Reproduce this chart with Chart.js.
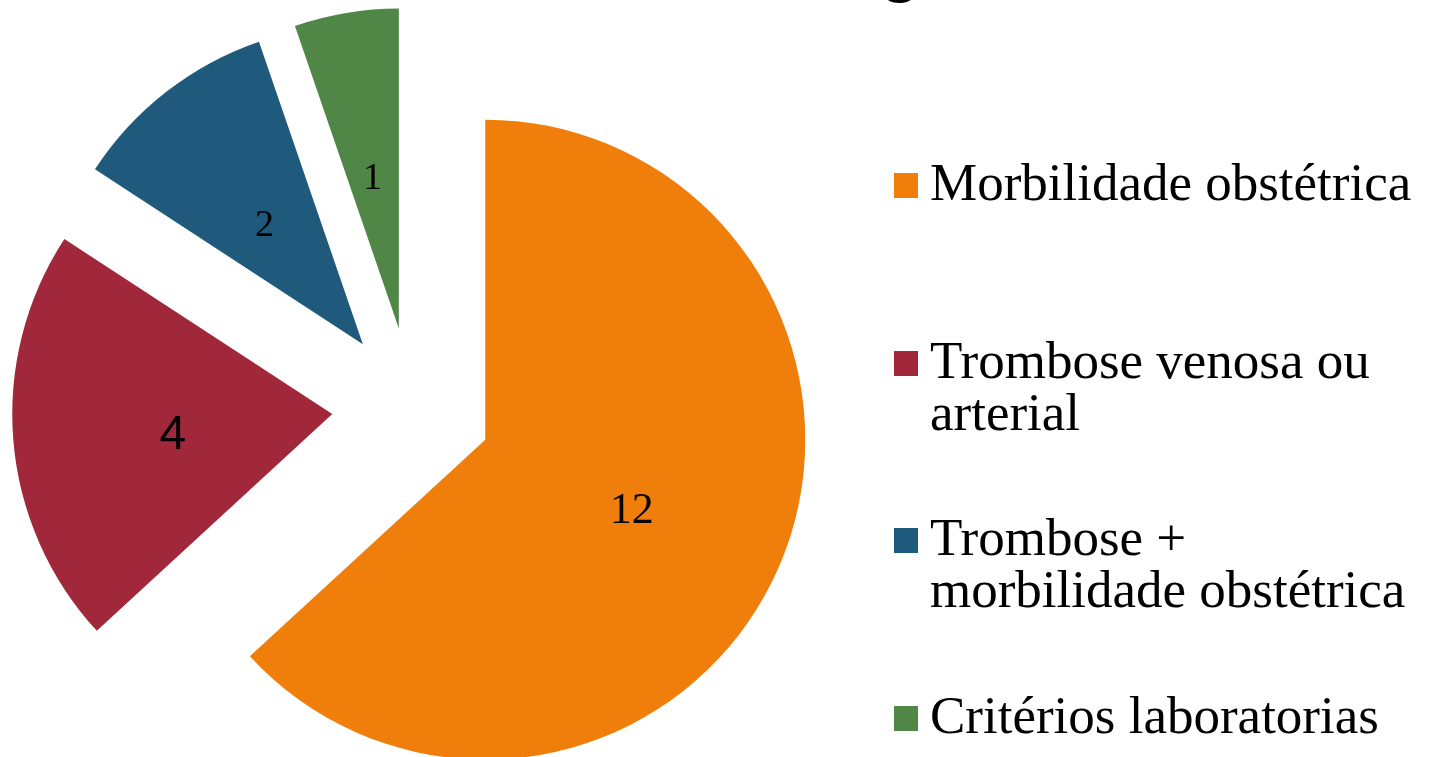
<!DOCTYPE html>
<html>
<head>
<meta charset="utf-8">
<script src="https://cdn.jsdelivr.net/npm/chart.js@4.4.1/dist/chart.umd.min.js"></script>
<style>
  html, body { margin: 0; padding: 0; background: #fff; overflow: hidden; }
  #wrap { position: relative; width: 1432px; height: 757px; overflow: hidden; }
  #chart { position: absolute; left: 0; top: 0; }
  /* the title sits above the picture, only the tail of its "g" shows */
  #title {
    position: absolute; left: 0; top: -60px; white-space: nowrap;
    font-family: "Liberation Serif", serif; font-weight: bold; font-size: 60px; line-height: 60px;
  }
  #legend {
    position: absolute; left: 894px; top: 0;
    font-family: "Liberation Serif", serif; font-size: 53px; line-height: 52px; color: #000;
  }
  .item { position: absolute; left: 0; white-space: nowrap; }
  .box { position: absolute; left: 0; top: 17px; width: 24px; height: 25px; }
  .txt { position: absolute; left: 36px; top: 0; }
</style>
</head>
<body>
<div id="wrap">
  <canvas id="chart" width="1432" height="757"></canvas>
  <div id="title">Critérios de diagnóstico</div>
  <div id="legend"></div>
</div>
<script>
// slice categories, one entry per legend line
const categories = [
  ["Morbilidade obstétrica"],
  ["Trombose venosa ou", "arterial"],
  ["Trombose +", "morbilidade obstétrica"],
  ["Critérios laboratorias"],
];

// number of patients in each group
const counts = [12, 4, 2, 1];

const sliceColors = ["#EF7F0A", "#A0283A", "#1F597B", "#508746"];

// the data labels are not all in the same font in the original
const labelFonts = [
  "44px 'Liberation Serif'",
  "48px 'Liberation Sans'",
  "38px 'Liberation Serif'",
  "38px 'Liberation Serif'",
];

// pulls every slice out along its middle angle, like "point explosion" in Excel,
// then writes the value in the middle of each slice
const explodePie = {
  id: "explodePie",
  beforeDatasetDraw(chart, args, opts) {
    const ctx = chart.ctx;
    args.meta.data.forEach((arc) => {
      const mid = (arc.startAngle + arc.endAngle) / 2;
      ctx.save();
      ctx.translate(Math.cos(mid) * opts.distance, Math.sin(mid) * opts.distance);
      arc.draw(ctx);
      ctx.restore();
    });
    return false; // we drew it ourselves
  },
  afterDatasetsDraw(chart, args, opts) {
    const ctx = chart.ctx;
    const meta = chart.getDatasetMeta(0);
    const values = chart.data.datasets[0].data;
    ctx.save();
    ctx.fillStyle = "#000";
    ctx.textAlign = "center";
    ctx.textBaseline = "middle";
    meta.data.forEach((arc, i) => {
      const mid = (arc.startAngle + arc.endAngle) / 2;
      const pos = arc.tooltipPosition();
      ctx.font = opts.fonts[i];
      ctx.fillText(
        String(values[i]),
        pos.x + Math.cos(mid) * opts.distance,
        pos.y + Math.sin(mid) * opts.distance + opts.dy
      );
    });
    ctx.restore();
  },
};

// html legend so the long labels can break over two lines
const htmlLegend = {
  id: "htmlLegend",
  afterUpdate(chart) {
    const target = document.querySelector("#legend");
    target.innerHTML = "";
    chart.data.labels.forEach((label, i) => {
      const item = document.createElement("div");
      item.className = "item";
      item.style.top = 156 + i * 177.5 + "px";
      const box = document.createElement("span");
      box.className = "box";
      box.style.background = chart.data.datasets[0].backgroundColor[i];
      const txt = document.createElement("span");
      txt.className = "txt";
      txt.innerHTML = label.join("<br>");
      item.appendChild(box);
      item.appendChild(txt);
      target.appendChild(item);
    });
  },
};

const chart = new Chart(document.querySelector("#chart"), {
  type: "pie",
  data: {
    labels: categories,
    datasets: [
      {
        data: counts,
        backgroundColor: sliceColors,
        borderWidth: 0,
        radius: 320,
      },
    ],
  },
  options: {
    responsive: false,
    animation: false,
    // puts the pie centre at (412, 407.5)
    layout: { padding: { left: 0, right: 608, top: 58, bottom: 0 } },
    plugins: {
      legend: { display: false },
      tooltip: { enabled: false },
      explodePie: { distance: 80, dy: 8, fonts: labelFonts },
    },
  },
  plugins: [explodePie, htmlLegend],
});

// slide the title sideways so its "g" lands where it is in the original
const title = document.querySelector("#title");
const textNode = title.firstChild;
const gIndex = textNode.textContent.indexOf("g");
const range = document.createRange();
range.setStart(textNode, gIndex);
range.setEnd(textNode, gIndex + 1);
title.style.left = 885 - range.getBoundingClientRect().left + "px";
</script>
</body>
</html>
